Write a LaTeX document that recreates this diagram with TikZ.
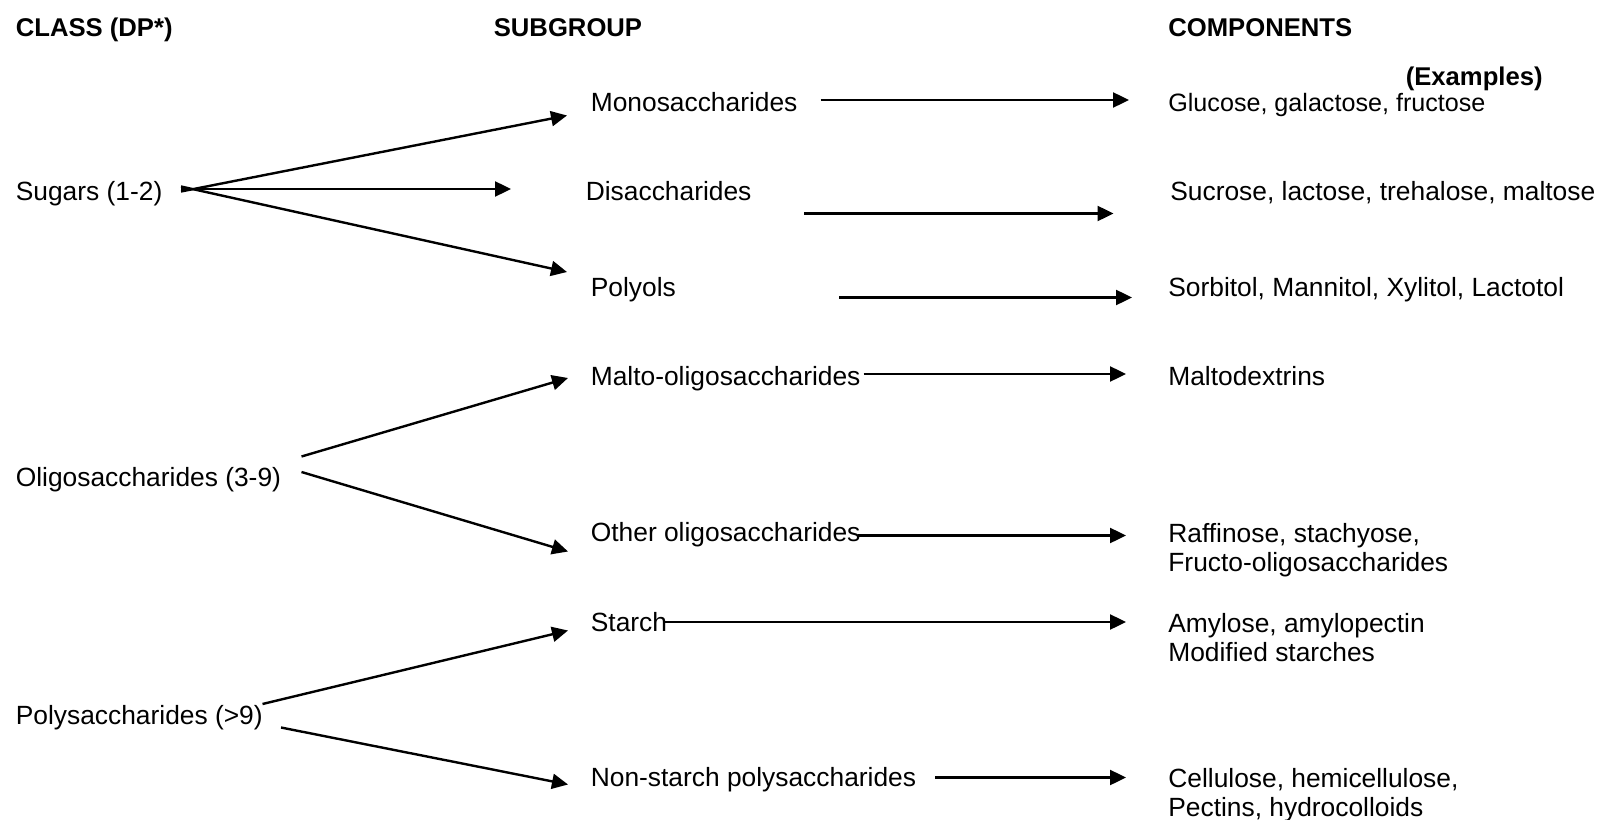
\documentclass[tikz,border=0pt]{standalone}
\usepackage{fontspec}
\setmainfont{Liberation Sans}
\usetikzlibrary{arrows.meta}

\tikzset{
  txt/.style={anchor=base west,inner sep=0pt,font=\fontsize{15}{16.3}\selectfont},
  hdr/.style={txt,font=\fontsize{14.6}{16.3}\selectfont\bfseries},
  blk/.style={txt,anchor=north west,align=left},
  arr/.style={-{Triangle[length=.32cm,width=.30cm]},line width=.048cm}
}

\begin{document}
\begin{tikzpicture}
    \useasboundingbox (0,0) rectangle (32.04,-16.4);
    % headings
    \node[hdr] (cls) at (0.31,-0.73) {CLASS (DP*)};
    \node[hdr] (sub) at (9.87,-0.73) {SUBGROUP};
    \node[hdr] (comp) at (23.36,-0.73) {COMPONENTS};
    \node[hdr,anchor=base east] (ex) at (30.86,-1.71) {(Examples)};
    % classes
    \node[txt] (sug) at (0.31,-4.02) {Sugars (1-2)};
    \node[txt] (oli) at (0.31,-9.72) {Oligosaccharides (3-9)};
    \node[txt] (poly) at (0.31,-14.48) {Polysaccharides (>9)};
    % subgroups
    \node[txt] (mono) at (11.81,-2.24) {Monosaccharides};
    \node[txt] (di) at (11.71,-4.02) {Disaccharides};
    \node[txt] (polyol) at (11.81,-5.92) {Polyols};
    \node[txt] (malto) at (11.81,-7.70) {Malto-oligosaccharides};
    \node[txt] (other) at (11.81,-10.83) {Other oligosaccharides};
    \node[txt] (starch) at (11.81,-12.62) {Starch};
    \node[txt] (nsp) at (11.81,-15.73) {Non-starch polysaccharides};
    % components
    \node[txt,font=\fontsize{14.3}{16.3}\selectfont] (glu) at (23.36,-2.24) {Glucose, galactose, fructose};
    \node[txt] (suc) at (23.40,-4.02) {Sucrose, lactose, trehalose, maltose};
    \node[txt] (sor) at (23.36,-5.92) {Sorbitol, Mannitol, Xylitol, Lactotol};
    \node[txt] (mdx) at (23.36,-7.70) {Maltodextrins};
    \node[blk] (raf) at (23.36,-10.47) {Raffinose, stachyose,\\Fructo-oligosaccharides};
    \node[blk] (amy) at (23.36,-12.26) {Amylose, amylopectin\\Modified starches};
    \node[blk] (cel) at (23.36,-15.37) {Cellulose, hemicellulose,\\Pectins, hydrocolloids};

    % arrow ends
    \coordinate (s0) at (3.62,-3.78);
    \coordinate (su) at (3.62,-3.83);
    \coordinate (sd) at (3.62,-3.73);
    \coordinate (s1) at (11.34,-2.31);
    \coordinate (s2) at (10.22,-3.78);
    \coordinate (s3) at (11.34,-5.44);
    \coordinate (o0) at (6.03,-9.13);
    \coordinate (o1) at (11.36,-7.56);
    \coordinate (o2) at (6.03,-9.44);
    \coordinate (o3) at (11.36,-11.03);
    \coordinate (p0) at (5.25,-14.08);
    \coordinate (p1) at (11.36,-12.61);
    \coordinate (p2) at (5.62,-14.55);
    \coordinate (p3) at (11.36,-15.69);
    \coordinate (m0) at (16.41,-2.00);
    \coordinate (m1) at (22.58,-2.00);
    \coordinate (d0) at (16.08,-4.27);
    \coordinate (d1) at (22.27,-4.27);
    \coordinate (y0) at (16.78,-5.95);
    \coordinate (y1) at (22.64,-5.95);
    \coordinate (t0) at (17.27,-7.48);
    \coordinate (t1) at (22.52,-7.48);
    \coordinate (r0) at (17.16,-10.71);
    \coordinate (r1) at (22.52,-10.71);
    \coordinate (a0) at (13.28,-12.44);
    \coordinate (a1) at (22.52,-12.44);
    \coordinate (n0) at (18.70,-15.55);
    \coordinate (n1) at (22.52,-15.55);

    \draw [arr] (su) -- (s1);
    \draw [arr] (s0) -- (s2);
    \draw [arr] (sd) -- (s3);
    \draw [arr] (o0) -- (o1);
    \draw [arr] (o2) -- (o3);
    \draw [arr] (p0) -- (p1);
    \draw [arr] (p2) -- (p3);
    \draw [arr] (m0) -- (m1);
    \draw [arr] (d0) -- (d1);
    \draw [arr] (y0) -- (y1);
    \draw [arr] (t0) -- (t1);
    \draw [arr] (r0) -- (r1);
    \draw [arr] (a0) -- (a1);
    \draw [arr] (n0) -- (n1);

\end{tikzpicture}
\end{document}
